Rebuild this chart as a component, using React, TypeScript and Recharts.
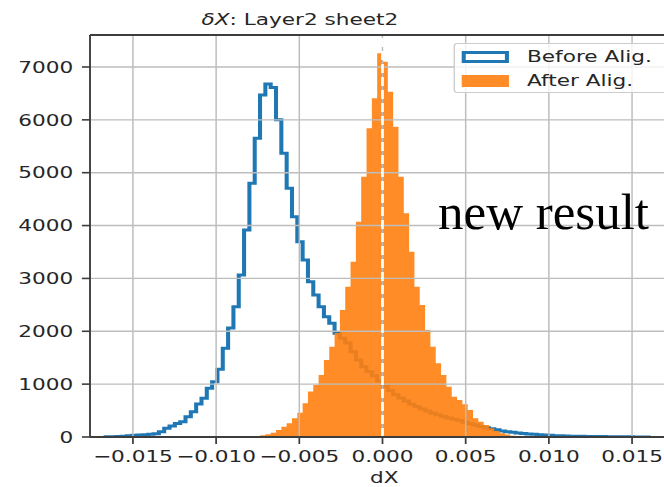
import React from 'react';
import { ComposedChart, Line, Area, XAxis, YAxis, ReferenceLine, Legend } from 'recharts';

// Residual dX per bin, before and after alignment (Layer2 sheet2).
// Both samples share one uniform binning.
const BIN_START = -0.01664;
const BIN_WIDTH = 0.00032;

const BEFORE_COUNTS = [
  3, 6, 10, 15, 22, 32, 38, 44, 50, 60,
  101, 164, 208, 255, 290, 385, 479, 624, 732, 921,
  1046, 1281, 1678, 2060, 2465, 3065, 3916, 4800, 5651, 6470,
  6680, 6610, 6000, 5370, 4705, 4168, 3695, 3349, 2938, 2687,
  2465, 2276, 2151, 1962, 1870, 1780, 1614, 1457, 1330, 1240,
  1160, 1060, 960, 880, 800, 740, 680, 620, 570, 530,
  490, 450, 420, 390, 360, 335, 310, 280, 250, 225,
  200, 175, 155, 135, 115, 100, 88, 76, 66, 57,
  50, 43, 37, 31, 26, 22, 19, 16, 14, 12,
  11, 10, 9, 8, 7, 6, 5, 4, 3, 2,
  2, 1,
];

const AFTER_FIRST_BIN = 27;
const AFTER_COUNTS = [
  10, 19, 35, 51, 81, 132, 195, 259, 354, 460,
  640, 860, 984, 1173, 1457, 1708, 1967, 2403, 2844, 3317,
  4074, 4925, 5840, 6408, 7260, 7100, 6533, 5871, 4925, 4232,
  3506, 2844, 2497, 2024, 1708, 1394, 1173, 952, 762, 700,
  620, 511, 354, 290, 227, 164, 113, 70, 45, 25,
  12, 5,
];

const SERIES_NAMES = ['Before Alig.', 'After Alig.'];
const X_TICKS = [-0.015, -0.01, -0.005, 0, 0.005, 0.01, 0.015];
const Y_TICKS = [0, 1000, 2000, 3000, 4000, 5000, 6000, 7000];
const X_DOMAIN: [number, number] = [-0.01758, 0.0178];
const Y_MAX = 7605;

const BLUE = '#1f77b4';
const ORANGE = '#ff7f0e';
const INK = '#262626';
const SPINE = '#3d3d3d';
const GRID = '#bdbdbd';
const FONT = '"DejaVu Sans", sans-serif';

// the figure is stretched horizontally; everything in the chart is laid out
// in unstretched units and scaled on the x axis
const STRETCH = 1.35;
const CHART_W = 510;
const CHART_H = 487;

type Row = { x: number; before: number; after: number };

function buildRows(): Row[] {
  const rows: Row[] = [{ x: BIN_START, before: 0, after: 0 }];
  BEFORE_COUNTS.forEach((b, i) => {
    const j = i - AFTER_FIRST_BIN;
    rows.push({
      x: BIN_START + i * BIN_WIDTH,
      before: b,
      after: j >= 0 && j < AFTER_COUNTS.length ? AFTER_COUNTS[j] : 0,
    });
  });
  rows.push({ x: BIN_START + BEFORE_COUNTS.length * BIN_WIDTH, before: 0, after: 0 });
  return rows;
}

function fmtX(v: number) {
  const s = Math.abs(v).toFixed(3);
  return v < -1e-9 ? `\u2212${s}` : s;
}

// outlined patch for the step histogram, filled patch for the bars
function LegendBox() {
  return (
    <div style={{
      boxSizing: 'border-box', width: 162, height: 50, paddingTop: 1, paddingLeft: 5.4,
      border: '1px solid #cccccc', borderRadius: 3, background: 'rgba(255,255,255,0.8)',
      fontFamily: FONT, fontSize: 16, color: INK,
    }}>
      {SERIES_NAMES.map((label, i) => (
        <div key={label} style={{ display: 'flex', alignItems: 'center', height: 24 }}>
          <span style={{
            boxSizing: 'border-box', width: 35, height: 12, marginRight: 13.4,
            border: i === 0 ? `3px solid ${BLUE}` : 'none',
            background: i === 0 ? '#fff' : ORANGE, opacity: i === 0 ? 1 : 0.9,
          }} />
          <span style={{ lineHeight: '16px', whiteSpace: 'nowrap' }}>{label}</span>
        </div>
      ))}
    </div>
  );
}

export default function App() {
  const rows = buildRows();
  return (
    <div style={{ position: 'absolute', left: 0, top: 0, width: 664, height: 487, overflow: 'hidden', background: '#fff' }}>
      <div style={{ position: 'absolute', left: 0, top: 0, width: CHART_W, height: CHART_H, transform: `scaleX(${STRETCH})`, transformOrigin: '0 0' }}>
        <ComposedChart
          width={CHART_W}
          height={CHART_H}
          data={rows}
          margin={{ top: 35, right: 7.3, bottom: 20, left: 0 }}
          style={{ fontFamily: FONT }}
        >
          <XAxis
            type="number"
            dataKey="x"
            domain={X_DOMAIN}
            ticks={X_TICKS}
            tickFormatter={fmtX}
            allowDataOverflow
            height={30}
            tickSize={7}
            tickMargin={6.6}
            tick={{ fill: INK, fontSize: 16 }}
            axisLine={{ stroke: SPINE, strokeWidth: 1.8 }}
            tickLine={{ stroke: SPINE, strokeWidth: 1.3 }}
            label={{ value: 'dX', position: 'bottom', offset: 4.6, fill: INK, fontSize: 16 }}
          />
          <YAxis
            type="number"
            domain={[0, Y_MAX]}
            ticks={Y_TICKS}
            allowDataOverflow
            width={66.67}
            tickSize={6}
            tickMargin={6.5}
            tick={{ fill: INK, fontSize: 16 }}
            axisLine={{ stroke: SPINE, strokeWidth: 1.4 }}
            tickLine={{ stroke: SPINE, strokeWidth: 1.6 }}
          />
          <Legend
            layout="horizontal"
            verticalAlign="middle"
            align="center"
            wrapperStyle={{ top: 43.3, left: 335.6, width: 162, height: 50 }}
            content={() => <LegendBox />}
          />
          <Line
            name={SERIES_NAMES[0]}
            type="stepAfter"
            dataKey="before"
            stroke={BLUE}
            strokeWidth={3}
            dot={false}
            activeDot={false}
            isAnimationActive={false}
            zIndex={50}
          />
          <Area
            name={SERIES_NAMES[1]}
            type="stepAfter"
            dataKey="after"
            fill={ORANGE}
            fillOpacity={0.9}
            stroke="none"
            dot={false}
            activeDot={false}
            isAnimationActive={false}
            zIndex={60}
          />
          {X_TICKS.map(t => (
            <ReferenceLine key={`gx${t}`} x={t} stroke={GRID} strokeWidth={1.1} zIndex={70} />
          ))}
          {Y_TICKS.slice(1).map(t => (
            <ReferenceLine key={`gy${t}`} y={t} stroke={GRID} strokeWidth={1.4} zIndex={70} />
          ))}
          <ReferenceLine y={Y_MAX} stroke={SPINE} strokeWidth={1.8} zIndex={75} />
          <ReferenceLine x={0} stroke="#ffffff" strokeWidth={2} strokeDasharray="9 4" zIndex={80} />
        </ComposedChart>
        <div style={{
          position: 'absolute', left: 0, top: 11.5, width: 444.4, textAlign: 'center',
          fontFamily: FONT, fontSize: 16, lineHeight: '16px', color: INK, whiteSpace: 'nowrap',
        }}>
          <span style={{ fontStyle: 'italic' }}>δX</span>: Layer2 sheet2
        </div>
      </div>
      <div style={{
        position: 'absolute', left: 438, top: 186.5, fontFamily: '"Liberation Serif", "Times New Roman", serif',
        fontSize: 51, lineHeight: '51px', color: '#000', whiteSpace: 'nowrap',
      }}>
        new result
      </div>
    </div>
  );
}
